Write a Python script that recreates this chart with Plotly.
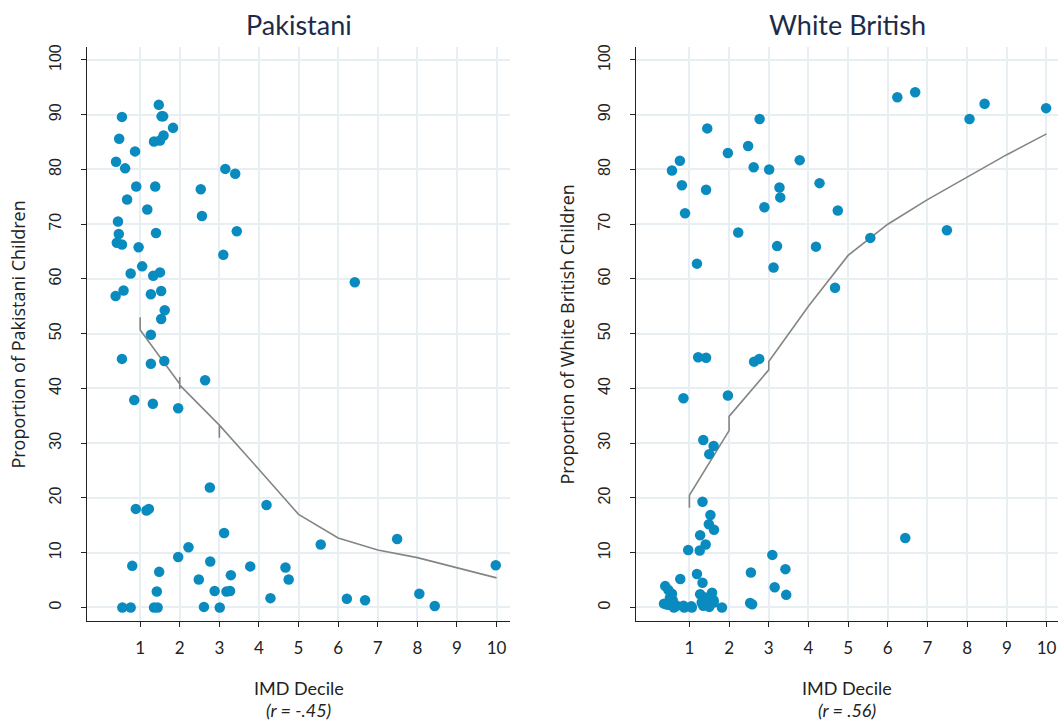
import plotly.graph_objects as go

# ---------------- data ----------------
pak_x = [1.47, 0.54, 1.54, 1.58, 1.83, 0.47, 1.59, 1.35, 1.50, 0.87,
         0.39, 0.62, 3.15, 3.40, 0.90, 1.38, 2.53, 0.67, 1.18, 2.56,
         0.44, 0.46, 1.40, 3.44, 0.41, 0.54, 0.96, 3.10, 1.05, 0.76,
         1.33, 1.50, 0.58, 0.38, 1.27, 1.53, 1.62, 1.53, 1.27, 0.54,
         1.27, 1.61, 2.64, 0.85, 1.32, 1.96, 2.76, 0.89, 1.16, 1.22,
         4.19, 3.12, 2.22, 0.80, 1.96, 2.77, 3.78, 1.48, 3.29, 2.48,
         1.42, 2.88, 3.18, 3.27, 4.29, 0.55, 0.76, 1.35, 1.44, 2.61,
         3.01, 4.67, 4.75, 5.56, 6.22, 6.68, 7.49, 8.05, 8.44, 9.98,
         6.42]
pak_y = [91.8, 89.6, 89.7, 89.7, 87.6, 85.6, 86.2, 85.1, 85.3, 83.3,
         81.4, 80.2, 80.1, 79.2, 76.9, 76.9, 76.4, 74.5, 72.7, 71.5,
         70.5, 68.2, 68.4, 68.7, 66.6, 66.3, 65.8, 64.4, 62.3, 61.0,
         60.6, 61.2, 57.9, 56.9, 57.2, 57.8, 54.3, 52.7, 49.8, 45.4,
         44.5, 45.0, 41.5, 37.9, 37.2, 36.4, 21.9, 18.0, 17.7, 18.0,
         18.7, 13.6, 11.0, 7.6, 9.2, 8.4, 7.5, 6.5, 5.9, 5.1,
         2.9, 3.0, 2.9, 3.0, 1.7, 0.0, 0.0, 0.0, 0.0, 0.1,
         0.0, 7.3, 5.1, 11.5, 1.6, 1.3, 12.5, 2.5, 0.25, 7.7,
         59.4]

wb_x = [0.56, 0.76, 0.81, 0.89, 1.45, 1.42, 1.19, 1.97, 2.48, 2.77,
        2.62, 3.01, 2.23, 2.89, 3.27, 3.29, 3.21, 3.12, 3.78, 4.28,
        4.19, 4.74, 4.67, 1.22, 1.42, 2.63, 2.76, 5.56, 6.24, 6.69,
        8.06, 8.44, 9.99, 7.49, 6.44, 0.85, 1.97, 1.35, 1.61, 1.50,
        1.33, 1.53, 1.49, 1.62, 1.27, 1.41, 1.26, 0.97, 3.09, 3.42,
        3.15, 3.44, 2.55, 2.53, 2.58, 0.77, 1.19, 1.33, 0.39, 0.47,
        0.56, 0.51, 0.58, 0.36, 0.47, 0.60, 0.68, 0.85, 1.05, 1.57,
        1.27, 1.40, 1.31, 1.61, 1.48, 1.35, 1.82, 1.43, 1.61, 1.50,
        0.42, 0.54, 0.61, 0.87, 1.06]
wb_y = [79.8, 81.6, 77.1, 72.0, 87.5, 76.3, 62.8, 83.0, 84.3, 89.2,
        80.4, 80.0, 68.5, 73.1, 76.7, 74.9, 66.0, 62.1, 81.7, 77.5,
        65.9, 72.5, 58.4, 45.7, 45.6, 44.9, 45.4, 67.5, 93.2, 94.1,
        89.2, 92.0, 91.2, 68.9, 12.7, 38.2, 38.7, 30.6, 29.5, 28.0,
        19.3, 16.9, 15.2, 14.2, 13.2, 11.5, 10.4, 10.5, 9.6, 7.0,
        3.7, 2.3, 6.4, 0.8, 0.6, 5.2, 6.1, 4.5, 3.9, 3.2,
        2.5, 1.8, 1.3, 0.7, 0.5, 0.6, 0.3, 0.3, 0.2, 2.7,
        2.4, 1.8, 0.9, 1.3, 0.5, 0.3, 0.0, 1.0, 0.9, 0.1,
        0.6, 0.6, 0.0, 0.0, 0.0]

# fitted lines (decile means; vertical spans where fitted values differ within a decile)
pak_line_x = [1, 1, 2, 2, 2, 2, 3, 3, 3, 4, 5, 6, 7, 8, 9, 10]
pak_line_y = [53.0, 50.7, 40.8, 42.1, 39.9, 40.6, 33.3, 31.0, 33.3, 25.2, 17.0, 12.7, 10.5, 9.1, 7.3, 5.4]
wb_line_x = [1, 1, 2, 2, 3, 3, 4, 5, 6, 7, 8, 9, 10]
wb_line_y = [18.2, 20.5, 32.3, 34.9, 43.4, 44.9, 55.0, 64.3, 70.0, 74.5, 78.6, 82.7, 86.5]

x_ticks = [1, 2, 3, 4, 5, 6, 7, 8, 9, 10]
y_ticks = [0, 10, 20, 30, 40, 50, 60, 70, 80, 90, 100]
titles = ["Pakistani", "White British"]
y_titles = ["Proportion of Pakistani Children", "Proportion of White British Children"]
x_title = "IMD Decile"
r_labels = ["(r = -.45)", "(r = .56)"]

# ---------------- styling ----------------
W, H = 1058, 721
DOT = "#0a8bbf"
LINE = "#858585"
GRID = "#e7eff2"
AXIS = "#222222"
NAVY = "#1d2b4a"
CAL = "Lato"
SANS = "Open Sans"
TICKSANS = "Liberation Sans"

fig = go.Figure()
fig.add_trace(go.Scatter(x=pak_line_x, y=pak_line_y, mode="lines",
                         line=dict(color=LINE, width=1.6), xaxis="x", yaxis="y",
                         showlegend=False, hoverinfo="skip"))
fig.add_trace(go.Scatter(x=pak_x, y=pak_y, mode="markers",
                         marker=dict(color=DOT, size=10.5, line=dict(width=0)),
                         xaxis="x", yaxis="y", showlegend=False))
fig.add_trace(go.Scatter(x=wb_line_x, y=wb_line_y, mode="lines",
                         line=dict(color=LINE, width=1.6), xaxis="x2", yaxis="y2",
                         showlegend=False, hoverinfo="skip"))
fig.add_trace(go.Scatter(x=wb_x, y=wb_y, mode="markers",
                         marker=dict(color=DOT, size=10.5, line=dict(width=0)),
                         xaxis="x2", yaxis="y2", showlegend=False))

ydom = [(H - 621) / H, (H - 44) / H]
doms = [[87 / W, 510 / W], [636 / W, 1058 / W]]
xranges = [[-0.343, 10.34], [-0.346, 10.29]]

def xaxis_cfg(i):
    return dict(domain=doms[i], range=xranges[i], tickmode="array", tickvals=x_ticks,
                ticktext=[str(v) for v in x_ticks], showgrid=True, gridcolor=GRID, gridwidth=1.5,
                zeroline=False, showline=True, linecolor=AXIS, linewidth=1,
                ticks="outside", ticklen=5, tickcolor=AXIS, ticklabelstandoff=6,
                tickfont=dict(family=CAL, size=17, color="#222222"),
                anchor="y" if i == 0 else "y2", fixedrange=True)

def yaxis_cfg(i):
    return dict(domain=ydom, range=[-2.55, 102.4], tickmode="array", tickvals=y_ticks,
                showgrid=True, gridcolor=GRID, gridwidth=1.5, zeroline=False,
                showline=True, linecolor=AXIS, linewidth=1, ticks="outside", ticklen=5,
                tickcolor=AXIS, tickangle=-90, ticklabelstandoff=14,
                tickfont=dict(family=TICKSANS, size=16, color="#222222"),
                anchor="x" if i == 0 else "x2", fixedrange=True)

annotations = []
centers = [298.5 / W, 847 / W]
ytitle_x = [18 / W, 567 / W]
for i in range(2):
    annotations.append(dict(text=titles[i], x=centers[i], y=1 - 22 / H, xref="paper", yref="paper",
                            xanchor="center", yanchor="middle", showarrow=False,
                            font=dict(family=CAL, size=27, color=NAVY)))
    annotations.append(dict(text=x_title, x=centers[i], y=(H - 688) / H, xref="paper", yref="paper",
                            xanchor="center", yanchor="middle", showarrow=False,
                            font=dict(family=CAL, size=18, color="#222222")))
    annotations.append(dict(text="<i>" + r_labels[i] + "</i>", x=centers[i], y=(H - 710) / H,
                            xref="paper", yref="paper", xanchor="center", yanchor="middle",
                            showarrow=False, font=dict(family=CAL, size=18, color="#222222")))
    annotations.append(dict(text=y_titles[i], x=ytitle_x[i], y=(H - 333) / H, xref="paper", yref="paper",
                            xanchor="center", yanchor="middle", textangle=-90, showarrow=False,
                            font=dict(family=SANS, size=18, color="#222222")))

fig.update_layout(
    width=W, height=H, margin=dict(l=0, r=0, t=0, b=0),
    paper_bgcolor="white", plot_bgcolor="white",
    xaxis=xaxis_cfg(0), yaxis=yaxis_cfg(0),
    xaxis2=xaxis_cfg(1), yaxis2=yaxis_cfg(1),
    annotations=annotations, showlegend=False,
)

fig.write_html("out.html", config={"displayModeBar": False},
               post_script="document.body.style.margin='0';document.body.style.overflow='hidden';")
